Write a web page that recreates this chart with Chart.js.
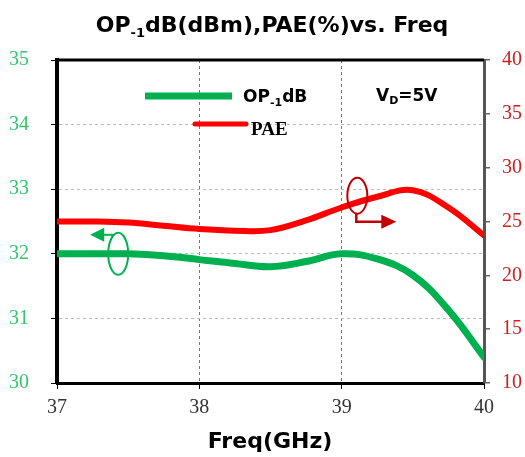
<!DOCTYPE html>
<html>
<head>
<meta charset="utf-8">
<script src="https://cdn.jsdelivr.net/npm/chart.js@4"></script>
<style>
  html, body { margin: 0; padding: 0; background: #fff; }
  canvas { display: block; }
</style>
</head>
<body>
<canvas id="chart" width="525" height="457"></canvas>
<script>
document.addEventListener('DOMContentLoaded', function() {

  // frequency points (GHz)
  const freq = [37, 37.25, 37.5, 37.75, 38, 38.25, 38.5, 38.75, 39, 39.25, 39.5, 39.75, 40];
  // OP-1dB (dBm), left axis
  const op1db = [32.0, 32.0, 32.0, 31.97, 31.91, 31.85, 31.8, 31.88, 32.0, 31.92, 31.67, 31.13, 30.4];
  // PAE (%), right axis
  const pae = [25.0, 25.0, 24.9, 24.6, 24.3, 24.15, 24.2, 25.1, 26.3, 27.3, 27.9, 26.3, 23.7];

  const xTicks = [37, 38, 39, 40];
  const leftTicks = [30, 31, 32, 33, 34, 35];
  const rightTicks = [10, 15, 20, 25, 30, 35, 40];

  const GREEN = '#00b050';
  const RED = '#ff0000';
  const SANS = '"DejaVu Sans", sans-serif';
  const SERIF = '"Liberation Serif", serif';

  // draw a run of text pieces (for subscripts)
  function drawParts(ctx, parts, x, y, align) {
    let total = 0;
    parts.forEach(p => { ctx.font = p.font; total += ctx.measureText(p.t).width; });
    let cx = align === 'center' ? x - total / 2 : x;
    ctx.textAlign = 'left';
    ctx.textBaseline = 'alphabetic';
    parts.forEach(p => {
      ctx.font = p.font;
      ctx.fillStyle = p.color || '#000';
      ctx.fillText(p.t, cx, y + (p.dy || 0));
      cx += ctx.measureText(p.t).width;
    });
  }

  const decor = {
    id: 'decor',
    afterDraw(chart) {
      const ctx = chart.ctx;
      const a = chart.chartArea;
      const xs = chart.scales.x, yl = chart.scales.y, yr = chart.scales.y1;
      ctx.save();

      // top frame line
      ctx.strokeStyle = '#000';
      ctx.lineWidth = 3;
      ctx.beginPath();
      ctx.moveTo(a.left - 2, a.top);
      ctx.lineTo(a.right, a.top);
      ctx.stroke();

      // title
      const big = 'bold 22px ' + SANS, small = 'bold 13px ' + SANS;
      drawParts(ctx, [
        { t: 'OP', font: big },
        { t: '-1', font: small, dy: 5 },
        { t: 'dB(dBm),PAE(%)vs. Freq', font: big }
      ], 272, 32, 'center');

      // x axis title
      ctx.font = 'bold 22px ' + SANS;
      ctx.textAlign = 'center';
      ctx.fillStyle = '#000';
      ctx.fillText('Freq(GHz)', 270, 448);

      // legend
      ctx.lineCap = 'butt';
      ctx.strokeStyle = GREEN;
      ctx.lineWidth = 7;
      ctx.beginPath(); ctx.moveTo(145, 96); ctx.lineTo(232, 96); ctx.stroke();
      const lb = 'bold 17px ' + SANS, ls = 'bold 11px ' + SANS;
      drawParts(ctx, [
        { t: 'OP', font: lb },
        { t: '-1', font: ls, dy: 4 },
        { t: 'dB', font: lb }
      ], 243, 102, 'left');

      ctx.lineCap = 'round';
      ctx.strokeStyle = RED;
      ctx.lineWidth = 5;
      ctx.beginPath(); ctx.moveTo(195, 124); ctx.lineTo(246, 124); ctx.stroke();
      drawParts(ctx, [{ t: 'PAE', font: 'bold 19px ' + SERIF }], 251, 135, 'left');

      drawParts(ctx, [
        { t: 'V', font: lb },
        { t: 'D', font: ls, dy: 3 },
        { t: '=5V', font: lb }
      ], 376, 101, 'left');

      // axis markers: ellipse + arrow
      ctx.lineCap = 'butt';
      let cx = xs.getPixelForValue(37.43), cy = yl.getPixelForValue(32);
      ctx.strokeStyle = GREEN; ctx.fillStyle = GREEN; ctx.lineWidth = 2;
      ctx.beginPath(); ctx.ellipse(cx, cy, 10, 21, 0, 0, Math.PI * 2); ctx.stroke();
      ctx.beginPath(); ctx.moveTo(cx - 5, cy - 19); ctx.lineTo(cx - 20, cy - 19); ctx.stroke();
      ctx.beginPath();
      ctx.moveTo(cx - 28, cy - 19); ctx.lineTo(cx - 14, cy - 26); ctx.lineTo(cx - 14, cy - 12);
      ctx.closePath(); ctx.fill();

      cx = xs.getPixelForValue(39.11); cy = yr.getPixelForValue(27.4);
      ctx.strokeStyle = '#c00000'; ctx.fillStyle = '#c00000';
      ctx.beginPath(); ctx.ellipse(cx, cy, 10, 18, 0, 0, Math.PI * 2); ctx.stroke();
      ctx.lineWidth = 2.5;
      ctx.beginPath(); ctx.moveTo(cx - 1, cy + 18); ctx.lineTo(cx - 1, cy + 26); ctx.lineTo(cx + 27, cy + 26); ctx.stroke();
      ctx.beginPath();
      ctx.moveTo(cx + 39, cy + 26); ctx.lineTo(cx + 24, cy + 19); ctx.lineTo(cx + 24, cy + 33);
      ctx.closePath(); ctx.fill();

      ctx.restore();
    }
  };

  const ctx = document.getElementById('chart').getContext('2d');
  new Chart(ctx, {
    type: 'line',
    data: {
      datasets: [
        {
          label: 'PAE',
          data: freq.map((f, i) => ({ x: f, y: pae[i] })),
          yAxisID: 'y1',
          borderColor: RED,
          borderWidth: 6,
          pointRadius: 0,
          tension: 0.4,
          borderCapStyle: 'round'
        },
        {
          label: 'OP-1dB',
          data: freq.map((f, i) => ({ x: f, y: op1db[i] })),
          yAxisID: 'y',
          borderColor: GREEN,
          borderWidth: 7,
          pointRadius: 0,
          tension: 0.4,
          borderCapStyle: 'round'
        }
      ]
    },
    options: {
      responsive: false,
      animation: false,
      devicePixelRatio: 1,
      layout: { padding: { top: 60, left: 0, right: 0, bottom: 0 } },
      plugins: {
        legend: { display: false },
        title: { display: false },
        tooltip: { enabled: false }
      },
      scales: {
        x: {
          type: 'linear',
          min: 37, max: 40,
          afterFit(s) { s.height = 74; },
          afterBuildTicks(s) { s.ticks = xTicks.map(v => ({ value: v })); },
          ticks: { color: '#333', font: { family: SERIF, size: 20 }, padding: 7, maxRotation: 0 },
          grid: {
            color: c => (c.tick && (c.tick.value === 38 || c.tick.value === 39)) ? '#777' : 'rgba(0,0,0,0)',
            tickColor: '#000',
            tickLength: 6,
            tickBorderDash: [],
            lineWidth: 1
          },
          border: { color: '#000', width: 3, dash: [3, 3] }
        },
        y: {
          position: 'left',
          min: 30, max: 35,
          afterFit(s) { s.width = 57; },
          afterBuildTicks(s) { s.ticks = leftTicks.map(v => ({ value: v })); },
          ticks: { color: '#33c46e', font: { family: SERIF, size: 20 }, padding: 22 },
          grid: {
            color: c => (c.tick && c.tick.value > 30 && c.tick.value < 35) ? '#bbb' : 'rgba(0,0,0,0)',
            tickColor: '#000',
            tickLength: 6,
            tickBorderDash: [],
            lineWidth: 1
          },
          border: { color: '#000', width: 4, dash: [3, 3] }
        },
        y1: {
          position: 'right',
          min: 10, max: 40,
          afterFit(s) { s.width = 41; },
          afterBuildTicks(s) { s.ticks = rightTicks.map(v => ({ value: v })); },
          ticks: { color: '#cc2020', font: { family: SERIF, size: 20 }, padding: 12 },
          grid: {
            drawOnChartArea: false,
            tickColor: '#666',
            tickLength: 6,
            lineWidth: 1.5
          },
          border: { color: '#555', width: 3 }
        }
      }
    },
    plugins: [decor]
  });

});
</script>
</body>
</html>
